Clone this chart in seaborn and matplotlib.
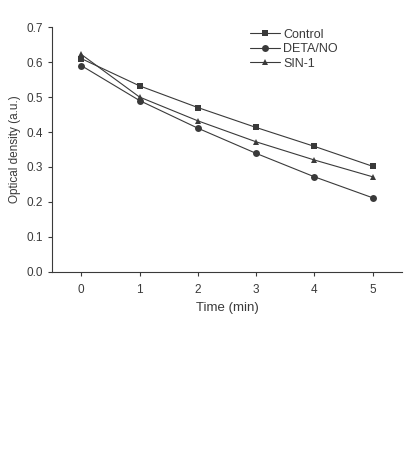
import pandas as pd
import matplotlib
matplotlib.use("Agg")
import matplotlib.pyplot as plt
import seaborn as sns

# Values
time_min = [0, 1, 2, 3, 4, 5]
control = [0.610, 0.532, 0.470, 0.413, 0.359, 0.302]
deta_no = [0.590, 0.490, 0.411, 0.339, 0.272, 0.212]
sin_1 = [0.622, 0.500, 0.432, 0.372, 0.320, 0.272]
series_names = ["Control", "DETA/NO", "SIN-1"]
y_ticks = [0.0, 0.1, 0.2, 0.3, 0.4, 0.5, 0.6, 0.7]


def main():
    df = pd.DataFrame({
        "Time": time_min * 3,
        "OD": control + deta_no + sin_1,
        "Group": [n for n in series_names for _ in time_min],
    })

    sns.set_style("ticks")
    plt.rcParams["font.family"] = ["Liberation Sans", "DejaVu Sans"]
    ink = "#3a3a3a"

    fig = plt.figure(figsize=(4.10, 4.51), dpi=100)
    ax = fig.add_axes([0.127, 0.397, 0.853, 0.543])

    sns.lineplot(data=df, x="Time", y="OD", hue="Group", style="Group",
                 palette=[ink, ink, ink], markers=["s", "o", "^"], dashes=False,
                 markersize=5, linewidth=0.8, markeredgewidth=0, ax=ax)

    ax.set_xlim(-0.5, 5.5)
    ax.set_ylim(0, 0.7)
    ax.set_yticks(y_ticks)
    ax.set_yticklabels([f"{v:.1f}" for v in y_ticks])
    ax.set_xticks(time_min)
    ax.set_xlabel("Time (min)", fontsize=9.5, color=ink, labelpad=4)
    ax.set_ylabel("Optical density (a.u.)", fontsize=8.5, color=ink, labelpad=4)
    ax.tick_params(axis="both", labelsize=8.5, colors=ink, length=3, width=0.8)
    ax.tick_params(axis="x", pad=6)
    for side in ["left", "bottom"]:
        ax.spines[side].set_color(ink)
        ax.spines[side].set_linewidth(0.8)
    sns.despine(ax=ax)

    leg = ax.legend(title=None, loc="upper right", bbox_to_anchor=(0.85, 1.04),
                    frameon=False, fontsize=9, handlelength=2.4,
                    handletextpad=0.25, labelspacing=0.2, labelcolor=ink)
    for h in leg.legend_handles:
        h.set_markersize(5)
        h.set_markeredgewidth(0)

    fig.savefig("out.png", dpi=100, facecolor="white")


if __name__ == "__main__":
    main()
